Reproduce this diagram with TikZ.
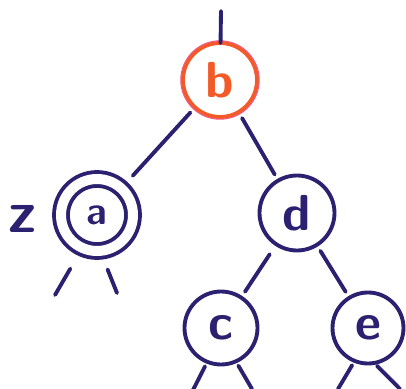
\documentclass[tikz,border=0pt]{standalone}
\usepackage{tikz}
\usetikzlibrary{arrows.meta}
\definecolor{inkblue}{HTML}{2B2170}
\definecolor{inkred}{HTML}{F25A28}
\definecolor{inkpink}{HTML}{F2557E}

\begin{document}
\begin{tikzpicture}[
  x=0.5mm, y=-0.5mm, line cap=round, line width=5.5pt, draw=inkblue,
  vtx/.style={circle, draw=inkblue, text=inkblue, outer sep=0pt, inner sep=0pt, minimum size=37mm, font=\sffamily\bfseries\fontsize{72}{72}\selectfont},
  edge/.style={draw=inkblue, shorten <=3.5mm, shorten >=3.5mm},
  stub/.style={draw=inkblue}]
\useasboundingbox (0,0) rectangle (406,389);
\node[vtx, draw=inkred, text=inkred] (b) at (220,80) {b};
\node[vtx, double=white, double distance=5mm, minimum size=36mm, font=\sffamily\bfseries\fontsize{56}{56}\selectfont] (a) at (97,215) {a};
\node[vtx, minimum size=37.5mm] (d) at (297,213) {d};
\node[vtx, minimum size=36.5mm] (c) at (221,328) {c};
\node[vtx, minimum size=35.5mm] (e) at (368,328) {e};
\node[text=inkblue, font=\sffamily\bfseries\fontsize{84}{84}\selectfont] (z) at (23,219) {z};
\draw[inkpink, line width=1.5pt] (b) circle (19.6mm);
% root stub and tree edges
\coordinate (top) at (221,11);
\draw[stub] (top) -- (b);
\draw[edge, shorten >=8.5mm] (b) -- (a);
\draw[edge] (b) -- (d);
\draw[edge, shorten <=6mm] (d) -- (c);
\draw[edge] (d) -- (e);
% dangling children
\coordinate (aL) at (55,295);
\coordinate (aR) at (117,293);
\coordinate (cL) at (193,390);
\coordinate (cR) at (252,389);
\coordinate (eL) at (338,389);
\coordinate (eR) at (400,389);
\draw[stub, shorten <=12mm] (a.-114) -- (aL);
\draw[stub, shorten <=10mm] (a.-85) -- (aR);
\draw[stub, shorten <=2.5mm] (c.-112) -- (cL);
\draw[stub, shorten <=2.5mm] (c.-66) -- (cR);
\draw[stub, shorten <=2.5mm] (e.-112) -- (eL);
\draw[stub, shorten <=2mm] (e.-80) -- (eR);
\end{tikzpicture}
\end{document}
